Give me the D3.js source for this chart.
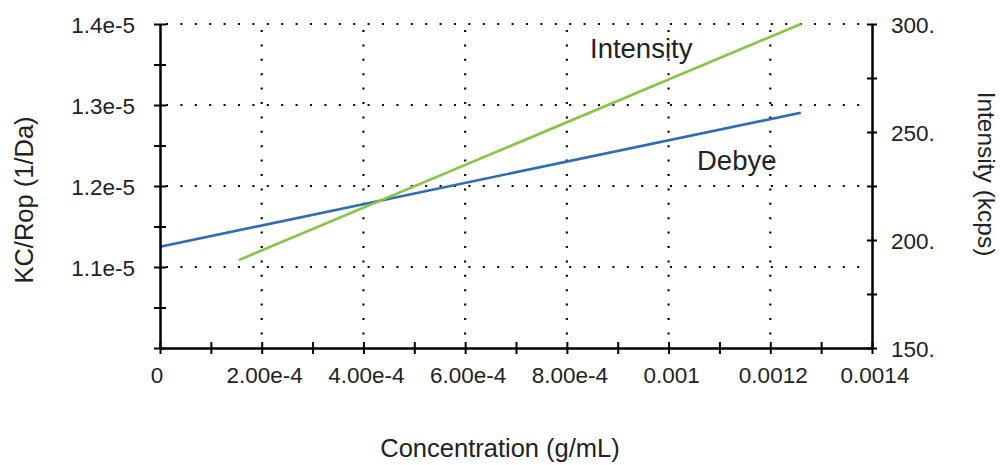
<!DOCTYPE html>
<html><head><meta charset="utf-8">
<script src="https://cdn.jsdelivr.net/npm/d3@7"></script>
<style>body{margin:0;background:#fff}text{font-family:"Liberation Sans",Arial,sans-serif;fill:#222}</style>
</head><body><svg id="c" width="1000" height="465"></svg>
<script>
// data
const debyeConc = [0, 0.00126];
const debyeKCR = [1.125e-5, 1.2905e-5];
const intConc = [0.000155, 0.00126];
const intKcps = [190.7, 300];
const xTickVals = [0, 0.0002, 0.0004, 0.0006, 0.0008, 0.001, 0.0012, 0.0014];
const xTickLabels = ["0", "2.00e-4", "4.00e-4", "6.00e-4", "8.00e-4", "0.001", "0.0012", "0.0014"];
const yLeftVals = [1.1e-5, 1.2e-5, 1.3e-5, 1.4e-5];
const yLeftLabels = ["1.1e-5", "1.2e-5", "1.3e-5", "1.4e-5"];
const yRightVals = [150, 200, 250, 300];
const yRightLabels = ["150.", "200.", "250.", "300."];

const svg = d3.select("#c");
const L = 160, R = 872, T = 24, B = 348;
const x = d3.scaleLinear().domain([0, 0.0014]).range([L, R]);
const yL = d3.scaleLinear().domain([1.0e-5, 1.4e-5]).range([B, T]);
const yR = d3.scaleLinear().domain([150, 300]).range([B, T]);

// grid
const grid = svg.append("g").attr("stroke", "#000").attr("stroke-width", 2.2).attr("stroke-dasharray", "2 12.4");
yLeftVals.forEach(v => grid.append("line").attr("x1", L + 6).attr("x2", R - 12).attr("y1", yL(v)).attr("y2", yL(v)));
xTickVals.slice(1, -1).forEach(v => grid.append("line").attr("x1", x(v)).attr("x2", x(v)).attr("y1", T + 6).attr("y2", B - 6));

// lines
const dL = debyeConc.map((c, i) => [x(c), yL(debyeKCR[i])]);
const iL = intConc.map((c, i) => [x(c), yR(intKcps[i])]);
const line = d3.line();
svg.append("path").attr("d", line(dL)).attr("fill", "none").attr("stroke", "#2e6db5").attr("stroke-width", 2.6);
svg.append("path").attr("d", line(iL)).attr("fill", "none").attr("stroke", "#86c540").attr("stroke-width", 2.6);

// axes
function styleAxis(g) {
  g.selectAll("path.domain").attr("stroke", "#000").attr("stroke-width", 2.5);
  g.selectAll(".tick line").attr("stroke", "#000").attr("stroke-width", 2);
  g.selectAll("text").remove();
}
const xAx = svg.append("g").attr("transform", `translate(0,${B})`)
  .call(d3.axisBottom(x).tickValues(d3.range(0, 15).map(i => i * 0.0001)).tickSize(6).tickSizeOuter(0));
xAx.selectAll(".tick line").attr("y1", -6);
styleAxis(xAx);
const ylAx = svg.append("g").attr("transform", `translate(${L},0)`)
  .call(d3.axisLeft(yL).tickValues(d3.range(0, 9).map(i => 1.0e-5 + i * 0.5e-6)).tickSize(6).tickSizeOuter(0));
ylAx.selectAll(".tick line").attr("x1", 6);
styleAxis(ylAx);
const yrAx = svg.append("g").attr("transform", `translate(${R},0)`)
  .call(d3.axisRight(yR).tickValues(d3.range(150, 301, 25)).tickSize(5).tickSizeOuter(0));
yrAx.selectAll(".tick line").attr("x1", -5);
styleAxis(yrAx);

// tick labels
svg.append("g").selectAll("text").data(xTickVals).join("text")
  .attr("x", d => x(d) + (d === 0 ? -3 : 3)).attr("y", 383).attr("text-anchor", "middle").attr("font-size", 22.5)
  .text((d, i) => xTickLabels[i]);
svg.append("g").selectAll("text").data(yLeftVals).join("text")
  .attr("x", 135).attr("y", d => yL(d) + 8.5).attr("text-anchor", "end").attr("font-size", 22.5)
  .text((d, i) => yLeftLabels[i]);
svg.append("g").selectAll("text").data(yRightVals).join("text")
  .attr("x", 891).attr("y", d => yR(d) + 8.5).attr("text-anchor", "start").attr("font-size", 22.5)
  .text((d, i) => yRightLabels[i]);

// titles
svg.append("text").attr("x", 500).attr("y", 457).attr("text-anchor", "middle").attr("font-size", 25.5).text("Concentration (g/mL)");
svg.append("text").attr("transform", "translate(33,200) rotate(-90)").attr("text-anchor", "middle").attr("font-size", 25.5).text("KC/Rop (1/Da)");
svg.append("text").attr("transform", "translate(978,174) rotate(90)").attr("text-anchor", "middle").attr("font-size", 24.5).text("Intensity (kcps)");

// series labels
svg.append("text").attr("x", 590).attr("y", 58).attr("font-size", 27.5).text("Intensity");
svg.append("text").attr("x", 697).attr("y", 170).attr("font-size", 27.5).text("Debye");
</script></body></html>
